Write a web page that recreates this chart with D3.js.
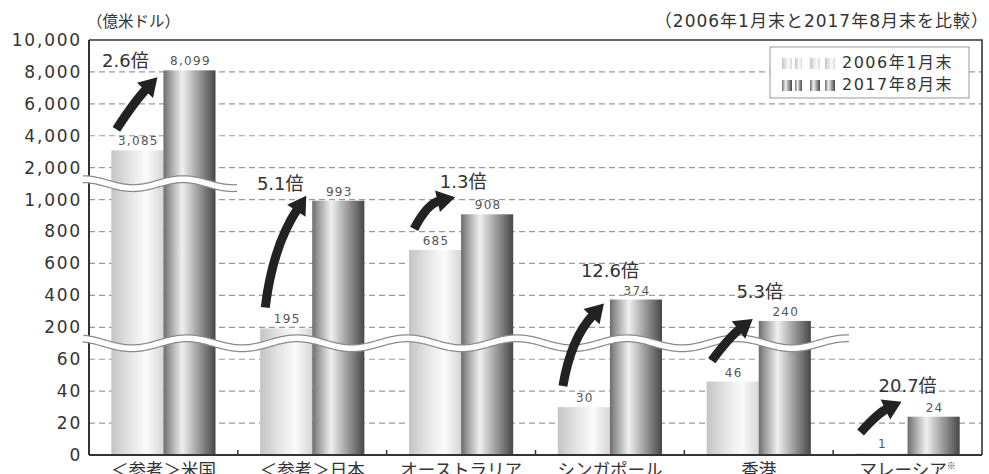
<!DOCTYPE html>
<html>
<head>
<meta charset="utf-8">
<script src="https://cdn.jsdelivr.net/npm/d3@7"></script>
<style>
body{margin:0;background:#fff}
svg{display:block}
</style>
</head>
<body>
<svg id="chart" width="989" height="474"></svg>
<script>
// datos
var countries = ["＜参考＞米国","＜参考＞日本","オーストラリア","シンガポール","香港","マレーシア"];
var v2006 = [3085,195,685,30,46,1];
var v2017 = [8099,993,908,374,240,24];
var ratios = ["2.6倍","5.1倍","1.3倍","12.6倍","5.3倍","20.7倍"];
var seriesNames = ["2006年1月末","2017年8月末"];
var yTicks = [0,20,40,60,200,400,600,800,1000,2000,4000,6000,8000,10000];
var yBreaks = [0,60,200,1000,2000,10000];

// colocacion de flechas y textos de "倍"
var notes = [
	{tipDy: 7,  bend: 3,  lx: -38, ly: -10},
	{tipDy: -5, bend: 14, lx: -32, ly: -6},
	{tipDy: -17,bend: 12, lx: 2,   ly: -9},
	{tipDy: 4,  bend: 14, lx: 0,   ly: -27},
	{tipDy: -2, bend: 4,  lx: 1,   ly: -21},
	{tipDy: -15,bend: 5,  lx: 0,   ly: -10}
];

var svg = d3.select('#chart');
var L = 89, R = 982, T = 40, B = 455;
var step = (B - T) / (yTicks.length - 1);

var y = d3.scaleLinear()
	.domain(yBreaks)
	.range(yBreaks.map(function(v){ return B - yTicks.indexOf(v) * step; }));

var x = d3.scaleBand()
	.domain(countries)
	.range([L, R])
	.paddingInner(0.3)
	.paddingOuter(0.15);
var bw = x.bandwidth() / 2;

// degradados
var defs = svg.append('defs');
function grad(id, stops){
	var g = defs.append('linearGradient').attr('id', id)
		.attr('x1','0%').attr('x2','100%').attr('y1','0%').attr('y2','0%');
	stops.forEach(function(s){
		g.append('stop').attr('offset', s[0]).attr('stop-color', s[1]);
	});
}
grad('g2006', [['0%','#c4c4c4'],['35%','#e4e4e4'],['68%','#fbfbfb'],['100%','#d6d6d6']]);
grad('g2017', [['0%','#6c6c6c'],['12%','#9c9c9c'],['36%','#f0f0f0'],['62%','#aaaaaa'],['100%','#474747']]);

// cuadricula
svg.append('g').selectAll('line')
	.data(yTicks.filter(function(d){ return d > 0 && d < 10000; }))
	.enter().append('line')
	.attr('x1', L).attr('x2', R)
	.attr('y1', function(d){ return y(d); })
	.attr('y2', function(d){ return y(d); })
	.attr('stroke', '#9a9a9a')
	.attr('stroke-width', 1.2)
	.attr('stroke-dasharray', '6,4');

// barras
var groups = svg.append('g').selectAll('g')
	.data(countries)
	.enter().append('g');

groups.append('rect')
	.attr('x', function(d){ return x(d); })
	.attr('y', function(d,i){ return y(v2006[i]); })
	.attr('width', bw)
	.attr('height', function(d,i){ return B - y(v2006[i]); })
	.attr('fill', 'url(#g2006)');

groups.append('rect')
	.attr('x', function(d){ return x(d) + bw; })
	.attr('y', function(d,i){ return y(v2017[i]); })
	.attr('width', bw)
	.attr('height', function(d,i){ return B - y(v2017[i]); })
	.attr('fill', 'url(#g2017)');

// marco
svg.append('path')
	.attr('d', 'M' + L + ',' + T + 'H' + R + 'V' + B)
	.attr('fill', 'none')
	.attr('stroke', '#333')
	.attr('stroke-width', 1.6);
svg.append('line')
	.attr('x1', L).attr('x2', L).attr('y1', T).attr('y2', B)
	.attr('stroke', '#333').attr('stroke-width', 2);
svg.append('line')
	.attr('x1', L).attr('x2', R).attr('y1', B).attr('y2', B)
	.attr('stroke', '#333').attr('stroke-width', 2);

// marcas entre grupos
svg.append('g').selectAll('line')
	.data(countries.slice(1))
	.enter().append('line')
	.attr('x1', function(d){ return x(d) - x.step() * x.paddingInner() / 2; })
	.attr('x2', function(d){ return x(d) - x.step() * x.paddingInner() / 2; })
	.attr('y1', B).attr('y2', B - 5)
	.attr('stroke', '#333').attr('stroke-width', 1.5);

// ondas de corte
function wave(x0, x1, cy, amp, period, crest){
	var pts = [];
	for (var px = x0; px <= x1; px += 2) {
		pts.push([px, cy - amp * Math.cos(2 * Math.PI * (px - crest) / period)]);
	}
	var d = d3.line().curve(d3.curveBasis)(pts);
	svg.append('path').attr('d', d).attr('fill','none')
		.attr('stroke', '#8a8a8a').attr('stroke-width', 8);
	svg.append('path').attr('d', d).attr('fill','none')
		.attr('stroke', '#fff').attr('stroke-width', 5.5);
}
wave(83, 237, (y(1000) + y(2000)) / 2, 4.5, 100, 183);
wave(83, 850, (y(60) + y(200)) / 2, 5, 110, 187);

// eje y
var yAxis = svg.append('g')
	.attr('transform', 'translate(' + L + ',0)')
	.call(d3.axisLeft(y).tickValues(yTicks).tickSize(0).tickPadding(7).tickFormat(d3.format(',')));
yAxis.select('.domain').remove();
yAxis.selectAll('text')
	.attr('font-family', 'DejaVu Sans, sans-serif')
	.attr('font-size', 17)
	.attr('letter-spacing', 1.8)
	.attr('fill', '#333');

// etiquetas x
svg.append('g').selectAll('text')
	.data(countries)
	.enter().append('text')
	.attr('x', function(d){ return x(d) + bw; })
	.attr('y', 476)
	.attr('text-anchor', 'middle')
	.attr('font-family', 'Noto Sans CJK JP, sans-serif')
	.attr('font-size', 17.5)
	.attr('fill', '#333')
	.each(function(d,i){
		var t = d3.select(this);
		t.append('tspan').text(d);
		if (i === countries.length - 1) {
			t.append('tspan').attr('font-size', 9).attr('dy', -7).text('※');
		}
	});

// valores
function valueLabels(vals, dx){
	svg.append('g').selectAll('text')
		.data(vals)
		.enter().append('text')
		.attr('x', function(d,i){ return x(countries[i]) + dx + bw / 2 + 1; })
		.attr('y', function(d){ return y(d) - 5; })
		.attr('text-anchor', 'middle')
		.attr('font-family', 'DejaVu Sans, sans-serif')
		.attr('font-size', 12)
		.attr('letter-spacing', 1.3)
		.attr('fill', '#555')
		.text(function(d){ return d3.format(',')(d); });
}
valueLabels(v2006, 0);
valueLabels(v2017, bw);

// flechas
countries.forEach(function(c, i){
	var n = notes[i];
	var mid = x(c) + bw;
	var tail = [mid - 47, y(v2006[i]) - 21];
	var tip = [mid - 6, y(v2017[i]) + n.tipDy];
	var dx = tip[0] - tail[0], dy = tip[1] - tail[1];
	var len = Math.sqrt(dx*dx + dy*dy);
	var ctrl = [(tail[0]+tip[0])/2 + dy/len*n.bend, (tail[1]+tip[1])/2 - dx/len*n.bend];
	var ux = tip[0] - ctrl[0], uy = tip[1] - ctrl[1];
	var ul = Math.sqrt(ux*ux + uy*uy);
	ux /= ul; uy /= ul;
	var base = [tip[0] - ux*18, tip[1] - uy*18];
	var p = d3.path();
	p.moveTo(tail[0], tail[1]);
	p.quadraticCurveTo(ctrl[0], ctrl[1], base[0] + ux*2, base[1] + uy*2);
	svg.append('path').attr('d', p.toString())
		.attr('fill','none').attr('stroke','#222').attr('stroke-width', 9);
	svg.append('polygon')
		.attr('points', [tip, [base[0] - uy*11, base[1] + ux*11], [base[0] + uy*11, base[1] - ux*11]].join(' '))
		.attr('fill', '#222');
	svg.append('text')
		.attr('x', mid + n.lx)
		.attr('y', tip[1] + n.ly)
		.attr('text-anchor', 'middle')
		.attr('font-family', 'DejaVu Sans, Noto Sans CJK JP, sans-serif')
		.attr('font-size', 18)
		.attr('fill', '#333')
		.text(ratios[i]);
});

// encabezados
svg.append('text')
	.attr('x', 87).attr('y', 27)
	.attr('font-family', 'Noto Sans CJK JP, sans-serif')
	.attr('font-size', 15.5)
	.attr('fill', '#333')
	.text('（億米ドル）');
svg.append('text')
	.attr('x', 989).attr('y', 27)
	.attr('text-anchor', 'end')
	.attr('font-family', 'DejaVu Sans, Noto Sans CJK JP, sans-serif')
	.attr('font-size', 17)
	.attr('letter-spacing', 1)
	.attr('fill', '#333')
	.text('（2006年1月末と2017年8月末を比較）');

// leyenda
var leg = svg.append('g');
leg.append('rect')
	.attr('x', 770).attr('y', 47).attr('width', 199).attr('height', 51)
	.attr('fill', '#fff').attr('stroke', '#999').attr('stroke-width', 1);
var swatch = [[0,10],[13,7],[28,10],[43,10]];
seriesNames.forEach(function(s, k){
	var gy = 58 + k * 22;
	swatch.forEach(function(sw){
		leg.append('rect')
			.attr('x', 782 + sw[0]).attr('y', gy)
			.attr('width', sw[1]).attr('height', 11)
			.attr('fill', k === 0 ? 'url(#g2006)' : 'url(#g2017)');
	});
	leg.append('text')
		.attr('x', 842).attr('y', gy + 10)
		.attr('font-family', 'DejaVu Sans, Noto Sans CJK JP, sans-serif')
		.attr('font-size', 16)
		.attr('letter-spacing', 1.5)
		.attr('fill', '#333')
		.text(s);
});
</script>
</body>
</html>
